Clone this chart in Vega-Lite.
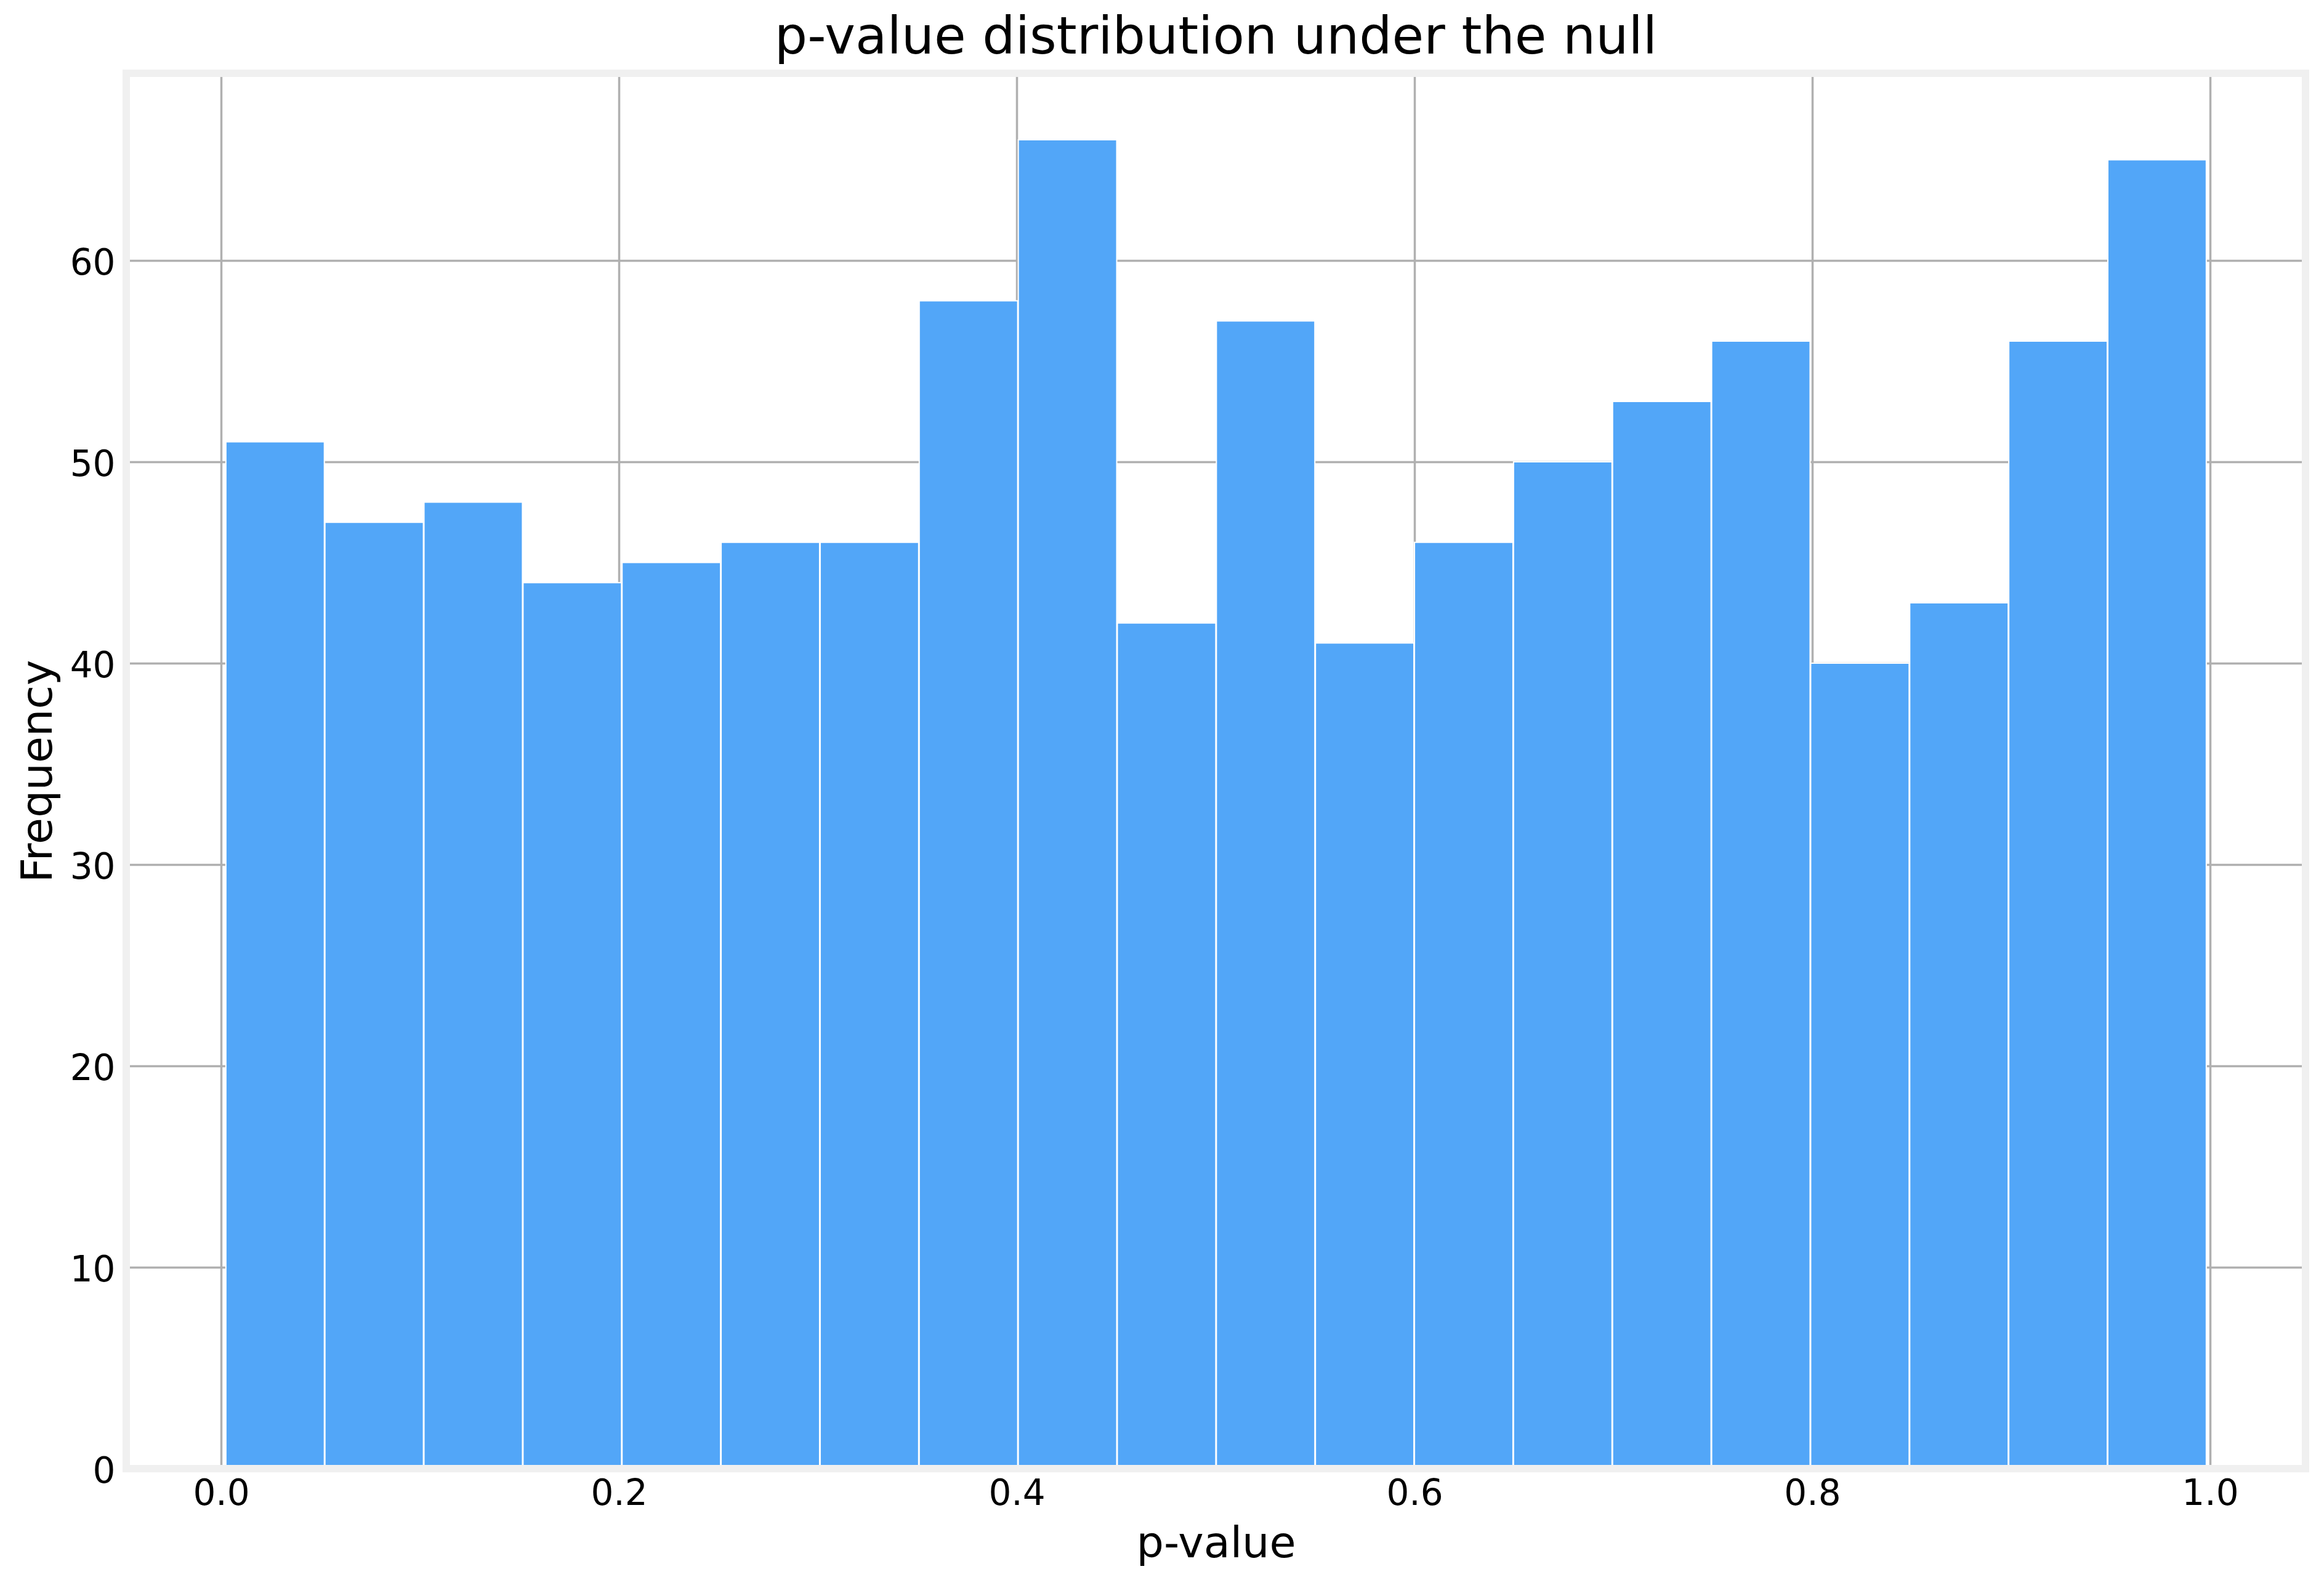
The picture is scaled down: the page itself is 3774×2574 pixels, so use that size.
{
  "$schema": "https://vega.github.io/schema/vega-lite/v6.json",
  "description": "Histogram of p-values under the null hypothesis",
  "autosize": {"type": "none"},
  "padding": {"left": 205, "top": 119, "right": 30, "bottom": 189},
  "width": 3539,
  "height": 2266,
  "background": "white",
  "title": {
    "text": "p-value distribution under the null",
    "font": "DejaVu Sans",
    "fontSize": 84,
    "fontWeight": "normal",
    "color": "#000000",
    "anchor": "middle",
    "frame": "group",
    "baseline": "alphabetic",
    "offset": 19,
    "dy": 77
  },
  "config": {
    "font": "DejaVu Sans",
    "view": {"stroke": "#f0f0f0", "strokeWidth": 12, "fill": "white"},
    "axis": {
      "labelFont": "DejaVu Sans",
      "labelFontSize": 58,
      "labelColor": "#000000",
      "titleFont": "DejaVu Sans",
      "titleFontSize": 70,
      "titleFontWeight": "normal",
      "titleColor": "#000000",
      "ticks": false,
      "tickSize": 0,
      "domain": false,
      "grid": true,
      "gridColor": "#b0b0b0",
      "gridWidth": 3.5
    }
  },
  "layer": [
    {
      "data": {
        "values": [
          {"lo": 0.0021, "hi": 0.0519, "count": 51},
          {"lo": 0.0519, "hi": 0.1017, "count": 47},
          {"lo": 0.1017, "hi": 0.1515, "count": 48},
          {"lo": 0.1515, "hi": 0.2013, "count": 44},
          {"lo": 0.2013, "hi": 0.2511, "count": 45},
          {"lo": 0.2511, "hi": 0.3009, "count": 46},
          {"lo": 0.3009, "hi": 0.3507, "count": 46},
          {"lo": 0.3507, "hi": 0.4005, "count": 58},
          {"lo": 0.4005, "hi": 0.4503, "count": 66},
          {"lo": 0.4503, "hi": 0.5001, "count": 42},
          {"lo": 0.5001, "hi": 0.5499, "count": 57},
          {"lo": 0.5499, "hi": 0.5997, "count": 41},
          {"lo": 0.5997, "hi": 0.6495, "count": 46},
          {"lo": 0.6495, "hi": 0.6993, "count": 50},
          {"lo": 0.6993, "hi": 0.7491, "count": 53},
          {"lo": 0.7491, "hi": 0.7989, "count": 56},
          {"lo": 0.7989, "hi": 0.8487, "count": 40},
          {"lo": 0.8487, "hi": 0.8985, "count": 43},
          {"lo": 0.8985, "hi": 0.9483, "count": 56},
          {"lo": 0.9483, "hi": 0.9981, "count": 65}
        ]
      },
      "mark": {"type": "bar", "color": "#52a6f8", "stroke": "white", "strokeWidth": 2},
      "encoding": {
        "x": {
          "field": "lo",
          "type": "quantitative",
          "bin": {"binned": true},
          "scale": {"domain": [-0.0477, 1.048], "nice": false, "zero": false},
          "axis": {
            "title": "p-value",
            "values": [0, 0.2, 0.4, 0.6, 0.8, 1.0],
            "format": ".1f",
            "labelPadding": 12,
            "titleBaseline": "alphabetic",
            "titleY": 143
          }
        },
        "x2": {"field": "hi"},
        "y": {
          "field": "count",
          "type": "quantitative",
          "scale": {"domain": [0, 69.3], "nice": false},
          "axis": {
            "title": "Frequency",
            "values": [0, 10, 20, 30, 40, 50, 60],
            "labelPadding": 18,
            "labelOffset": 5,
            "titleBaseline": "alphabetic",
            "titleX": -122,
            "gridColor": {"condition": {"test": "datum.value === 0", "value": "transparent"}, "value": "#b0b0b0"}
          }
        }
      }
    },
    {
      "data": {"values": [{"edge": "bottom"}]},
      "mark": {"type": "rule", "color": "#f0f0f0", "strokeWidth": 12},
      "encoding": {"y": {"datum": 0}}
    },
    {
      "data": {"values": [{"edge": "left"}]},
      "mark": {"type": "rule", "color": "#f0f0f0", "strokeWidth": 12},
      "encoding": {"x": {"datum": -0.0477}}
    },
    {
      "data": {"values": [{"edge": "right"}]},
      "mark": {"type": "rule", "color": "#f0f0f0", "strokeWidth": 12},
      "encoding": {"x": {"datum": 1.048}}
    },
    {
      "data": {"values": [{"edge": "top"}]},
      "mark": {"type": "rule", "color": "#f0f0f0", "strokeWidth": 12},
      "encoding": {"y": {"datum": 69.3}}
    }
  ]
}
